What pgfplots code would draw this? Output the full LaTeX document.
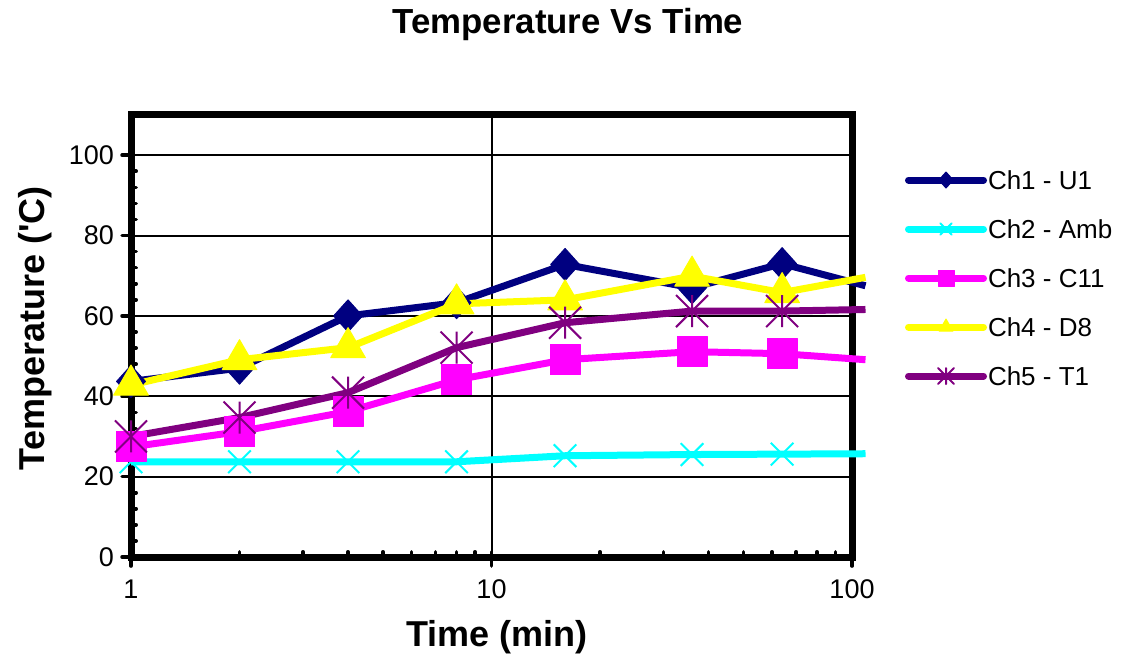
\documentclass[border=0pt]{standalone}
\usepackage{pgfplots}
\pgfplotsset{compat=1.18}
\usepackage{fontspec}
\setmainfont{Liberation Sans}
\definecolor{cNavy}{RGB}{0,0,128}
\definecolor{cCyan}{RGB}{0,255,255}
\definecolor{cMag}{RGB}{255,0,255}
\definecolor{cYel}{RGB}{255,255,0}
\definecolor{cPur}{RGB}{128,0,128}
\pgfdeclareplotmark{xstar}{%
  \pgfpathmoveto{\pgfqpoint{-\pgfplotmarksize}{-\pgfplotmarksize}}%
  \pgfpathlineto{\pgfqpoint{\pgfplotmarksize}{\pgfplotmarksize}}%
  \pgfpathmoveto{\pgfqpoint{-\pgfplotmarksize}{\pgfplotmarksize}}%
  \pgfpathlineto{\pgfqpoint{\pgfplotmarksize}{-\pgfplotmarksize}}%
  \pgfpathmoveto{\pgfqpoint{0pt}{-\pgfplotmarksize}}%
  \pgfpathlineto{\pgfqpoint{0pt}{\pgfplotmarksize}}%
  \pgfusepathqstroke
}
\pgfdeclareplotmark{sqdiamond}{%
  \pgfpathmoveto{\pgfqpoint{0pt}{\pgfplotmarksize}}%
  \pgfpathlineto{\pgfqpoint{0.9\pgfplotmarksize}{0pt}}%
  \pgfpathlineto{\pgfqpoint{0pt}{-\pgfplotmarksize}}%
  \pgfpathlineto{\pgfqpoint{-0.9\pgfplotmarksize}{0pt}}%
  \pgfpathclose
  \pgfusepathqfillstroke
}
\begin{document}
\begin{tikzpicture}
\useasboundingbox (0,0) rectangle (561pt,332pt);
\begin{axis}[
  at={(65.5pt,53.5pt)}, anchor=south west,
  scale only axis, width=360.5pt, height=221pt,
  xmode=log, xmin=1, xmax=100, ymin=0, ymax=110,
  log ticks with fixed point,
  ytick={0,20,40,60,80,100},
  minor y tick num=4,
  clip=false,
  axis line style={line width=3.5pt, line cap=round, black},
  grid=major,
  major grid style={line width=1pt, black},
  tick pos=left,
  tick style={line width=1.8pt, black, line cap=round},
  tick align=inside,
  major tick length=-4.5pt,
  minor tick length=2.6pt,
  /pgf/number format/assume math mode=true,
  ticklabel style={font=\fontsize{13.5}{16}\selectfont},
  xticklabel style={yshift=-8pt},
  yticklabel style={xshift=-5pt},
  title={Temperature Vs Time},
  title style={at={(axis description cs:0.606,1.157)}, anchor=base, font=\bfseries\fontsize{17.4}{20}\selectfont},
  xlabel={Time (min)},
  xlabel style={at={(axis description cs:0.508,-0.2036)}, anchor=base, font=\bfseries\fontsize{18}{22}\selectfont},
  ylabel={Temperature (\textquotesingle C)},
  ylabel style={at={(axis description cs:-0.1193,0.518)}, anchor=base, font=\bfseries\fontsize{18}{22}\selectfont},
  legend style={at={(axis description cs:1.0735,0.880)}, anchor=north west, draw=none, fill=none,
    inner sep=0pt, outer sep=0pt, row sep=12.5pt, column sep=0.5pt,
    font=\fontsize{13}{15}\selectfont,
    nodes={inner sep=0pt, text height=10.6pt, text depth=1.4pt}},
  legend cell align=left,
  legend image code/.code={\draw[mark repeat=2, mark phase=2, mark indices={2}] plot coordinates {(0pt,0pt) (18.75pt,0pt) (37.5pt,0pt)};},
  legend image post style={mark size=4pt, line cap=round},
  every axis plot/.append style={line width=3.5pt, line join=round, line cap=butt, mark indices={1,2,3,4,5,6,7}},
]
\addplot[cNavy, mark=sqdiamond, mark size=8pt, mark options={solid, line width=0.5pt}] coordinates {
 (1,43.7) (2,47) (4,60) (8,63.3) (16,72.8) (36,67) (64,73) (109,67.5)};
\addlegendentry{Ch1 - U1}
\addplot[cCyan, mark=x, mark size=8pt, mark options={solid, line width=1pt}] coordinates {
 (1,23.7) (2,23.7) (4,23.7) (8,23.7) (16,25.2) (36,25.5) (64,25.6) (109,25.7)};
\addlegendentry{Ch2 - Amb}
\addplot[cMag, mark=square*, mark size=7.5pt, mark options={solid, line width=0.5pt}] coordinates {
 (1,27.4) (2,31.2) (4,36.2) (8,44.1) (16,49.1) (36,51.1) (64,50.6) (109,49.1)};
\addlegendentry{Ch3 - C11}
\addplot[cYel, mark=triangle*, mark size=10pt, mark options={solid, line width=0.5pt}] coordinates {
 (1,42.8) (2,49.1) (4,52.1) (8,63) (16,64) (36,69.9) (64,65.8) (109,69.6)};
\addlegendentry{Ch4 - D8}
\addplot[cPur, mark=xstar, mark size=8pt, mark options={solid, line width=1pt}] coordinates {
 (1,30) (2,34.7) (4,40.9) (8,52.1) (16,58.3) (36,61.2) (64,61.2) (109,61.6)};
\addlegendentry{Ch5 - T1}
\end{axis}
\end{tikzpicture}
\end{document}
